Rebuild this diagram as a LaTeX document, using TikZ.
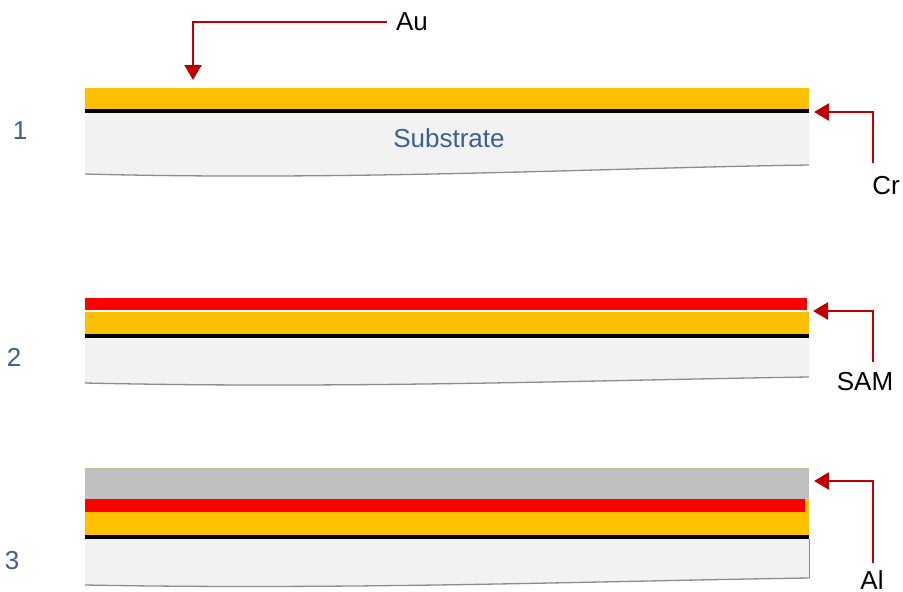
\documentclass[tikz,border=0pt]{standalone}
\usepackage{fontspec}
\setmainfont{Liberation Sans}
\usetikzlibrary{arrows.meta}
\definecolor{gold}{RGB}{255,192,0}
\definecolor{samred}{RGB}{255,0,0}
\definecolor{algray}{RGB}{191,191,191}
\definecolor{subfill}{RGB}{242,242,242}
\definecolor{arrowred}{RGB}{192,0,0}
\definecolor{txtblue}{RGB}{59,96,145}
\definecolor{edgegray}{RGB}{140,140,140}
\begin{document}
\begin{tikzpicture}[x=1pt,y=-1pt,
  lbl/.style={font=\fontsize{26}{30}\selectfont, inner sep=0pt},
  num/.style={lbl, text=txtblue},
  callout/.style={draw=arrowred, line width=2.5pt, -{Triangle[width=17pt,length=15pt]}},
  substrate/.style={fill=subfill},
  subedge/.style={draw=edgegray, line width=1.3pt},
  crline/.style={fill=black}]
\useasboundingbox (0,0) rectangle (903,592);

% ---------- Panel 1 ----------
\fill[substrate] (85,113) -- (809,113) -- (809,165) .. controls (600,168) and (350,181) .. (85,174) -- cycle;
\draw[subedge] (809,165) .. controls (600,168) and (350,181) .. (85,174);
\fill[gold] (85,88) rectangle (809,109);
\fill[crline] (85,109) rectangle (809,113);
\node[num] (n1) at (20,131) {1};
\node[lbl, text=txtblue] (sub) at (449,138) {Substrate};

% ---------- Panel 2 ----------
\fill[substrate] (85,338) -- (809,338) -- (809,377) .. controls (600,380) and (350,389) .. (85,383) -- cycle;
\draw[subedge] (809,377) .. controls (600,380) and (350,389) .. (85,383);
\fill[samred] (85,298) rectangle (807,310);
\fill[gold] (85,312) rectangle (809,334);
\fill[crline] (85,334) rectangle (809,338);
\node[num] (n2) at (14,357) {2};

% ---------- Panel 3 ----------
\fill[substrate] (85,539) -- (809,539) -- (809,578) .. controls (600,581) and (350,590) .. (85,585) -- cycle;
\draw[subedge] (809,578) .. controls (600,581) and (350,590) .. (85,585);
\draw[draw=edgegray, line width=0.6pt] (809,539) -- (809,578);
\fill[algray] (85,468) rectangle (809,499);
\draw[draw={rgb,255:red,200;green,190;blue,150}, line width=0.6pt] (85,468) -- (809,468);
\fill[gold] (85,499) rectangle (809,535);
\fill[samred] (85,499) rectangle (805,512);
\fill[crline] (85,535) rectangle (809,539);
\node[num] (n3) at (12,561) {3};

% ---------- Labels and callouts ----------
\node[lbl] (au) at (412,22) {Au};
\coordinate (autip) at (193,80);
\draw[callout] ([xshift=-9pt]au.west) -| (autip);

\node[lbl] (cr) at (886,186) {Cr};
\coordinate (crs) at (873,163);
\coordinate (crtip) at (814,112);
\draw[callout] (crs) |- (crtip);

\node[lbl] (sam) at (865,382) {SAM};
\coordinate (sams) at (873,362);
\coordinate (samtip) at (813,311);
\draw[callout] (sams) |- (samtip);

\node[lbl] (al) at (872,580) {Al};
\coordinate (als) at (873,563);
\coordinate (altip) at (814,481);
\draw[callout] (als) |- (altip);
\end{tikzpicture}
\end{document}
